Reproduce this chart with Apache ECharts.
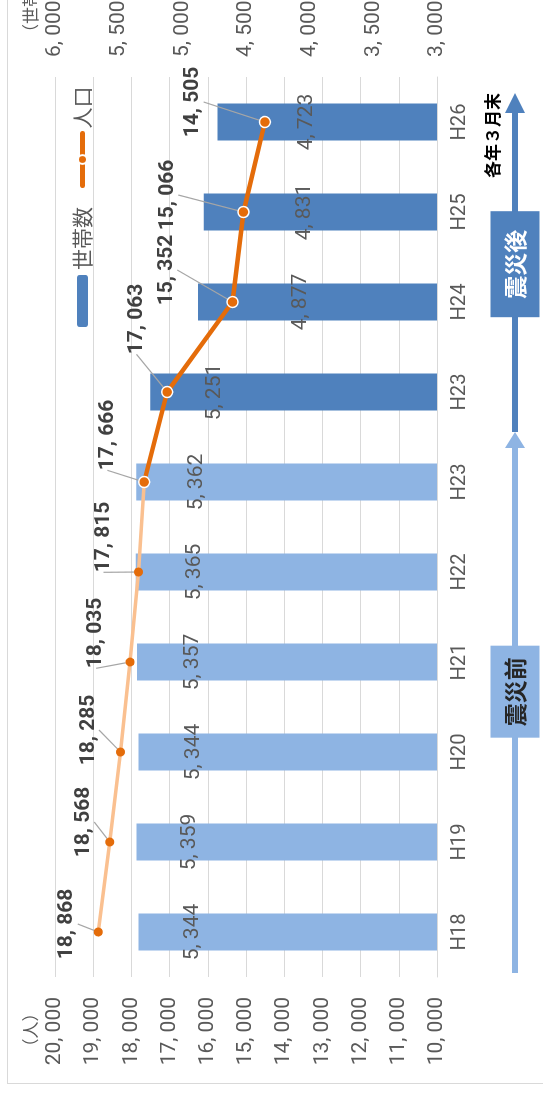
<!DOCTYPE html>
<html>
<head>
<meta charset="utf-8">
<script src="https://cdn.jsdelivr.net/npm/echarts@6/dist/echarts.min.js"></script>
<style>
  html, body { margin: 0; padding: 0; background: #fff; overflow: hidden; width: 543px; height: 1096px; }
  /* the chart is laid out landscape and turned a quarter turn so the time axis runs bottom-to-top */
  #stage { position: absolute; left: 0; top: 0; width: 1096px; height: 543px; overflow: hidden;
           transform-origin: 0 0; transform: translateY(1096px) rotate(-90deg); background: #fff; }
  #frame { position: absolute; left: 12px; top: 7px; width: 1300px; height: 700px; border: 1px solid #D9D9D9; }
  #chart { position: absolute; left: 0; top: 0; width: 1096px; height: 543px; }
</style>
</head>
<body>
<div id="stage">
  <div id="frame"></div>
  <div id="chart"></div>
</div>
<script>
// 年度（各年３月末）
const categories = ['H18', 'H19', 'H20', 'H21', 'H22', 'H23', 'H23', 'H24', 'H25', 'H26'];
// 世帯数
const households = [5344, 5359, 5344, 5357, 5365, 5362, 5251, 4877, 4831, 4723];
// 人口
const population = [18868, 18568, 18285, 18035, 17815, 17666, 17063, 15352, 15066, 14505];
// last index before the earthquake (H23, before)
const lastBefore = 5;
const phaseNames = ['震災前', '震災後'];
const noteText = '各年３月末';

// label placement tweaks (pixels)
const barLabelDrop = [44, 43, 45, 45, 48, 50, 54, 92, 90, 79];
const lineLabelShift = [[8, -11], [20, -6], [22, -12], [29, -14], [35, -15], [47, -15], [73, -9], [32, -44], [17, -54], [20, -50]];

const CJK = "'Noto Sans CJK JP', sans-serif";
const fmt = v => String(v).replace(/\B(?=(\d{3})+(?!\d))/g, ', ');

// pick the narrowest installed sans face for the figures
function pickNumberFont() {
  const ctx = document.createElement('canvas').getContext('2d');
  const sample = '20, 000';
  const w = f => { ctx.font = f; return ctx.measureText(sample).width; };
  const candidates = [
    { stretch: 'extra-condensed', fam: "'Noto Sans'" },
    { stretch: 'condensed', fam: "'Noto Sans'" },
    { stretch: 'normal', fam: "'Liberation Sans Narrow'" },
    { stretch: 'condensed', fam: "'Liberation Sans'" },
    { stretch: 'normal', fam: "'DejaVu Sans Condensed'" },
    { stretch: 'condensed', fam: "'DejaVu Sans'" },
    { stretch: 'normal', fam: "'Noto Sans CJK JP'" },
    { stretch: 'normal', fam: 'Roboto' }
  ];
  let best = null;
  candidates.forEach(c => {
    const a = w(`${c.stretch} 100px ${c.fam}, monospace`);
    const b = w(`${c.stretch} 100px ${c.fam}, serif`);
    if (Math.abs(a - b) > 0.5) return; // family not installed
    if (!best || a < best.width) best = { ...c, width: a };
  });
  if (!best) best = { stretch: 'normal', fam: 'sans-serif', width: w('normal 100px sans-serif') };
  // 274 = width of the sample at 100px in a narrow grotesque
  const k = Math.min(1.08, 274 / best.width);
  return { fam: best.fam + ", 'Noto Sans CJK JP', sans-serif", stretch: best.stretch, k };
}
const NUM = pickNumberFont();
const nsz = s => Math.round(s * NUM.k * 10) / 10;
const numText = (size, bold) => ({
  fontFamily: NUM.fam,
  fontWeight: (bold ? 'bold ' : '') + NUM.stretch,
  fontSize: nsz(size)
});

const chart = echarts.init(document.getElementById('chart'), null, { renderer: 'canvas' });

const barData = households.map((v, i) => ({
  value: v,
  itemStyle: i <= lastBefore ? { color: '#8EB4E3' } : undefined,
  label: { distance: barLabelDrop[i] }
}));

const popAfter = population.map((v, i) => i >= lastBefore ? v : '-');
const popBefore = population.map((v, i) => i <= lastBefore
  ? (i === lastBefore ? { value: v, symbol: 'none', label: { show: false } } : v)
  : '-');

const lineLabel = Object.assign({
  show: true,
  position: 'top',
  distance: 5,
  color: '#404040',
  formatter: p => fmt(p.value)
}, numText(25, true));
const lineLabelLayout = p => {
  const s = lineLabelShift[p.dataIndex];
  return { dx: s[0], dy: s[1] };
};
const guide = { show: true, lineStyle: { color: '#A6A6A6', width: 1.2 } };

chart.setOption({
  animation: false,
  grid: { left: 119, right: 77, top: 55, bottom: 106, outerBoundsMode: 'none', containLabel: false },
  legend: {
    left: 764, top: 67,
    itemWidth: 52, itemHeight: 11, itemGap: 19,
    lineStyle: { width: 5, cap: 'round' },
    textStyle: { fontFamily: CJK, fontSize: 21, color: '#595959' },
    data: ['世帯数', '人口']
  },
  xAxis: {
    type: 'category',
    data: categories,
    axisLine: { lineStyle: { color: '#D9D9D9' } },
    axisTick: { show: false },
    axisLabel: Object.assign({ color: '#595959', margin: 13, interval: 0 }, numText(24))
  },
  yAxis: [
    {
      type: 'value', min: 10000, max: 20000, interval: 1000,
      name: '（人）', nameLocation: 'end', nameGap: 16,
      nameTextStyle: { fontFamily: CJK, fontSize: 17, color: '#595959', padding: [0, 106, 0, 0] },
      axisLine: { show: false }, axisTick: { show: false },
      axisLabel: Object.assign({ color: '#595959', margin: 20, formatter: fmt }, numText(25)),
      splitLine: { lineStyle: { color: '#D9D9D9', width: 1 } }
    },
    {
      type: 'value', min: 3000, max: 6000, interval: 500,
      name: '（世帯）', nameLocation: 'end', nameGap: 16,
      nameTextStyle: { fontFamily: CJK, fontSize: 17, color: '#595959', padding: [0, 0, 0, 140] },
      axisLine: { show: false }, axisTick: { show: false },
      axisLabel: Object.assign({ color: '#595959', margin: 20, formatter: fmt }, numText(25)),
      splitLine: { show: false }
    }
  ],
  series: [
    {
      name: '世帯数', type: 'bar', yAxisIndex: 1, barWidth: 37, z: 2,
      itemStyle: { color: '#4F81BD' },
      label: Object.assign({
        show: true, position: 'insideTop', color: '#595959',
        formatter: p => fmt(p.value)
      }, numText(25)),
      data: barData
    },
    {
      name: '人口', type: 'line', yAxisIndex: 0, z: 5,
      symbol: 'circle', symbolSize: 11,
      lineStyle: { color: '#E46C0A', width: 4.5 },
      itemStyle: { color: '#E46C0A', borderColor: '#FFFFFF', borderWidth: 1.5 },
      label: lineLabel, labelLayout: lineLabelLayout, labelLine: guide,
      data: popAfter
    },
    {
      name: '人口', type: 'line', yAxisIndex: 0, z: 4,
      symbol: 'circle', symbolSize: 9,
      lineStyle: { color: '#FAC090', width: 3.5 },
      itemStyle: { color: '#E46C0A', borderWidth: 0 },
      label: lineLabel, labelLayout: lineLabelLayout, labelLine: guide,
      data: popBefore
    }
  ]
});

// period arrows beneath the category labels
function arrowPoints(x0, x1, y, head, half, shaft) {
  return [[x0, y - shaft], [x1 - head, y - shaft], [x1 - head, y - half], [x1, y],
          [x1 - head, y + half], [x1 - head, y + shaft], [x0, y + shaft]];
}

function drawPeriods() {
  const cx = i => chart.convertToPixel({ xAxisIndex: 0 }, i);
  const band = cx(1) - cx(0);
  const left = cx(0) - band / 2;
  const split = cx(lastBefore) + band / 2;
  const right = cx(categories.length - 1) + band / 2;
  const base = chart.convertToPixel({ yAxisIndex: 0 }, 10000);
  const ay = base + 78;

  const a0 = left + 4, a1 = split + 5, b0 = split + 5, b1 = right - 16;
  const boxH = 49;
  const preW = 92, postW = 106;
  const preC = a0 + (a1 - a0) * 0.52;
  const postC = b0 + (b1 - b0) * 0.495;

  chart.setOption({
    graphic: [
      { type: 'polygon', silent: true, shape: { points: arrowPoints(a0, a1, ay, 16, 10, 3) }, style: { fill: '#8EB4E3' } },
      { type: 'polygon', silent: true, shape: { points: arrowPoints(b0, b1, ay, 20, 10, 3) }, style: { fill: '#4F81BD' } },
      { type: 'rect', silent: true, shape: { x: preC - preW / 2, y: ay - boxH / 2, width: preW, height: boxH }, style: { fill: '#8EB4E3' } },
      { type: 'rect', silent: true, shape: { x: postC - postW / 2, y: ay - boxH / 2, width: postW, height: boxH }, style: { fill: '#4F81BD' } },
      { type: 'text', silent: true, x: preC, y: ay, style: { text: phaseNames[0], fontFamily: CJK, fontSize: 23, fontWeight: 'bold', fill: '#262626', align: 'center', verticalAlign: 'middle' } },
      { type: 'text', silent: true, x: postC, y: ay, style: { text: phaseNames[1], fontFamily: CJK, fontSize: 23, fontWeight: 'bold', fill: '#FFFFFF', align: 'center', verticalAlign: 'middle' } },
      { type: 'text', silent: true, x: b1, y: ay - 22, style: { text: noteText, fontFamily: CJK, fontSize: 17, fontWeight: 'bold', fill: '#000000', align: 'right', verticalAlign: 'middle' } }
    ]
  });
}
drawPeriods();
</script>
</body>
</html>
